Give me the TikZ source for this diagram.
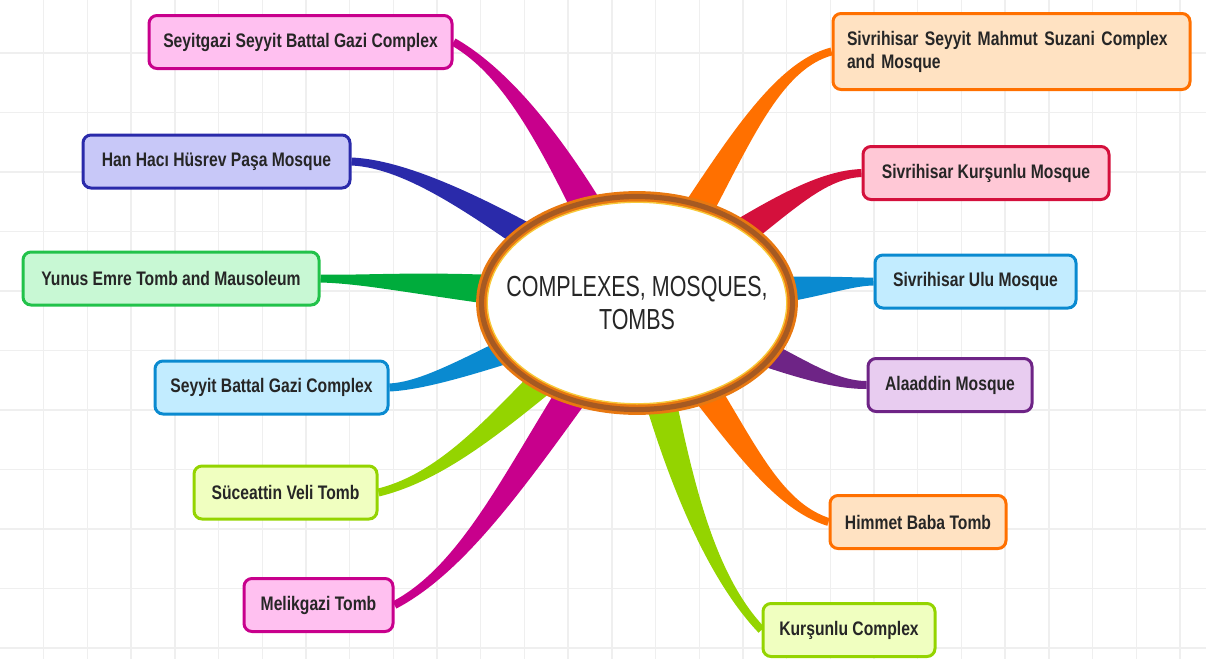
\documentclass[tikz,border=0pt]{standalone}
\usepackage{fontspec}
\setmainfont[FakeStretch=0.8]{Liberation Sans}
\newfontfamily\hubfont[FakeStretch=0.74]{Liberation Sans}
\usetikzlibrary{shapes.geometric,calc,backgrounds}

\definecolor{mag}{HTML}{C8008C}
\definecolor{pinkf}{HTML}{FFC0F0}
\definecolor{navy}{HTML}{2A2AAA}
\definecolor{lav}{HTML}{C8C8F8}
\definecolor{grn}{HTML}{22C24A}
\definecolor{grnb}{HTML}{00AC3C}
\definecolor{mint}{HTML}{C8F8D4}
\definecolor{sky}{HTML}{0A8AD0}
\definecolor{skyf}{HTML}{C2ECFF}
\definecolor{lime}{HTML}{94D400}
\definecolor{limef}{HTML}{F0FFC0}
\definecolor{org}{HTML}{FF7000}
\definecolor{peach}{HTML}{FFE2C2}
\definecolor{crim}{HTML}{D4103C}
\definecolor{rose}{HTML}{FFC8D6}
\definecolor{purp}{HTML}{6E2486}
\definecolor{lilac}{HTML}{E8CCF0}
\definecolor{ringor}{HTML}{E87810}
\definecolor{ringbr}{HTML}{A65A22}
\definecolor{gold}{HTML}{F8C838}
\definecolor{gridc}{HTML}{EFEFEF}
\definecolor{txt}{HTML}{262626}

\newcommand{\twig}[5]{%
  \fill[#1] ($(#2)!9pt!90:(#3)$) .. controls ($(#3)!9pt!-90:(#2)$) and ($(#4)!2pt!90:(#5)$) .. ($(#5)!2pt!-90:(#4)$)
    -- ($(#5)!2pt!90:(#4)$) .. controls ($(#4)!2pt!-90:(#5)$) and ($(#3)!9pt!90:(#2)$) .. ($(#2)!9pt!-90:(#3)$) -- cycle;}

\begin{document}
\begin{tikzpicture}[x=0.5pt,y=-0.5pt,
  topic/.style 2 args={draw=#1,fill=#2,line width=1.5pt,rounded corners=4pt,anchor=west,
    inner xsep=7pt,inner ysep=0pt,minimum height=26.5pt,align=left,
    font=\fontsize{9.8pt}{11.5pt}\selectfont\bfseries,text=txt},
  ring/.style={ellipse,draw=ringor,double=ringbr,line width=1.4pt,double distance=2.6pt,
    fill=white,inner sep=0pt,minimum width=155.5pt,minimum height=106.5pt},
  hubtext/.style={font=\hubfont\fontsize{14.5pt}{16.5pt}\selectfont,align=center,text=txt}
]
\useasboundingbox (0,0) rectangle (1206,659);

\node[topic={mag}{pinkf},minimum width=151.5pt] (sbg) at (147.5,42) {Seyitgazi Seyyit Battal Gazi Complex};
\node[topic={navy}{lav},minimum width=133.5pt] (hhp) at (81.5,161.5) {Han Hacı Hüsrev Paşa Mosque};
\node[topic={grn}{mint},minimum width=148pt] (yet) at (21.5,278.5) {Yunus Emre Tomb and Mausoleum};
\node[topic={sky}{skyf},minimum width=116.5pt] (sbgc) at (153.5,387.5) {Seyyit Battal Gazi Complex};
\node[topic={lime}{limef},minimum width=91.5pt] (svt) at (192.5,492.5) {Süceattin Veli Tomb};
\node[topic={mag}{pinkf},minimum width=74.5pt] (mt) at (242.5,605) {Melikgazi Tomb};
\node[topic={org}{peach},text width=164.5pt,minimum height=38pt] (ssm) at (831.5,51.5) {Sivrihisar Seyyit Mahmut Suzani Complex\\and Mosque};
\node[topic={crim}{rose},minimum width=123pt] (skm) at (861.5,173) {Sivrihisar Kurşunlu Mosque};
\node[topic={sky}{skyf},minimum width=100.5pt] (sum) at (873.5,281.5) {Sivrihisar Ulu Mosque};
\node[topic={purp}{lilac},minimum width=82pt] (am) at (866.5,385) {Alaaddin Mosque};
\node[topic={org}{peach},minimum width=88pt] (hbt) at (828.5,522) {Himmet Baba Tomb};
\node[topic={lime}{limef},minimum width=86pt] (kc) at (761.5,630) {Kurşunlu Complex};

\node[ring] (hub) at (637,303) {};
\draw[gold,line width=0.7pt] (hub.center) ellipse [x radius=74.9pt,y radius=50.4pt];
\node[hubtext] (title) at (hub.center) {COMPLEXES, MOSQUES,\\TOMBS};

\begin{scope}[on background layer]
  \foreach \i in {1,...,27} \draw[gridc,line width=0.7pt] (43.7*\i,0) -- (43.7*\i,659);
  \foreach \j in {0,...,10} \draw[gridc,line width=0.7pt] (0,53+59.5*\j) -- (1206,53+59.5*\j);
  \twig{mag}{hub.center}{575,180}{520,80}{sbg.east}
  \twig{navy}{hub.center}{540,250}{430,165}{hhp.east}
  \twig{grnb}{hub.center}{450,285}{380,280}{yet.east}
  \twig{sky}{hub.center}{520,340}{440,385}{sbgc.east}
  \twig{lime}{hub.center}{540,370}{470,470}{svt.east}
  \twig{mag}{hub.center}{540,430}{480,560}{mt.east}
  \twig{org}{hub.center}{715,200}{760,70}{ssm.west}
  \twig{crim}{hub.center}{760,225}{810,175}{skm.west}
  \twig{sky}{hub.center}{800,290}{840,282}{sum.west}
  \twig{purp}{hub.center}{770,350}{820,385}{am.west}
  \twig{org}{hub.center}{725,400}{760,500}{hbt.west}
  \twig{lime}{hub.center}{665,420}{695,560}{kc.west}
\end{scope}
\end{tikzpicture}
\end{document}
